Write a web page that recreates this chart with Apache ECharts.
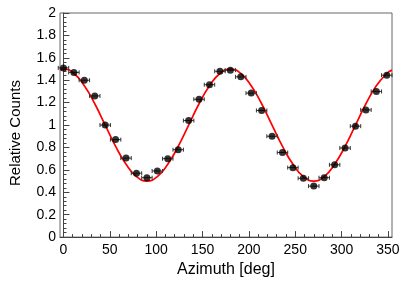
<!DOCTYPE html>
<html>
<head>
<meta charset="utf-8">
<script src="https://cdn.jsdelivr.net/npm/echarts@6/dist/echarts.min.js"></script>
<style>
  html, body { margin: 0; padding: 0; background: #fff; }
  #chart { width: 415px; height: 283px; }
</style>
</head>
<body>
<div id="chart"></div>
<script>
// ---- data ----
const binCenters = [0, 11.25, 22.5, 33.75, 45, 56.25, 67.5, 78.75, 90, 101.25, 112.5, 123.75,
  135, 146.25, 157.5, 168.75, 180, 191.25, 202.5, 213.75, 225, 236.25, 247.5, 258.75,
  270, 281.25, 292.5, 303.75, 315, 326.25, 337.5, 348.75];
const relCounts = [1.51, 1.47, 1.40, 1.26, 1.00, 0.87, 0.705, 0.57, 0.53, 0.59, 0.70, 0.78,
  1.04, 1.23, 1.36, 1.48, 1.49, 1.43, 1.285, 1.13, 0.90, 0.755, 0.62, 0.525,
  0.455, 0.53, 0.645, 0.795, 0.99, 1.135, 1.30, 1.445];
const binHalfWidth = 5.625;

const fitX = [-3.75, 0, 11.25, 22.5, 33.75, 45, 56.25, 67.5, 78.75, 90, 101.25, 112.5, 123.75,
  135, 146.25, 157.5, 168.75, 180, 191.25, 202.5, 213.75, 225, 236.25, 247.5, 258.75,
  270, 281.25, 292.5, 303.75, 315, 326.25, 337.5, 348.75, 354.375];
const fitY = [1.495, 1.50, 1.46, 1.35, 1.19, 1.00, 0.81, 0.65, 0.54, 0.50, 0.54, 0.65, 0.81,
  1.00, 1.19, 1.35, 1.46, 1.50, 1.46, 1.35, 1.19, 1.00, 0.81, 0.65, 0.54,
  0.50, 0.54, 0.65, 0.81, 1.00, 1.19, 1.35, 1.46, 1.49];

const xMajorTicks = [0, 50, 100, 150, 200, 250, 300, 350];
const xMinorTicks = [10, 20, 30, 40, 60, 70, 80, 90, 110, 120, 130, 140, 160, 170, 180, 190,
  210, 220, 230, 240, 260, 270, 280, 290, 310, 320, 330, 340];
const xTitle = 'Azimuth [deg]';
const yTitle = 'Relative Counts';

// ---- chart ----
const FONT = '"Liberation Sans", Arial, Helvetica, sans-serif';
const AXC = '#444';
const X_MIN = -3.75, X_MAX = 354.375;
const chart = echarts.init(document.getElementById('chart'), null, { renderer: 'canvas' });

const points = binCenters.map((x, i) => [x, relCounts[i]]);
const fit = fitX.map((x, i) => [x, fitY[i]]);

chart.setOption({
  animation: false,
  backgroundColor: '#fff',
  grid: { left: 58, right: 23, top: 13, bottom: 45, show: true, borderColor: '#666', borderWidth: 1, backgroundColor: 'transparent' },
  xAxis: [
    {
      type: 'value', min: X_MIN, max: X_MAX,
      name: xTitle, nameLocation: 'middle', nameGap: 23,
      nameTextStyle: { fontFamily: FONT, fontSize: 16, color: '#000' },
      axisLine: { show: true, onZero: false, lineStyle: { color: AXC, width: 1 } },
      axisTick: { show: true, inside: true, length: 6, customValues: xMajorTicks, lineStyle: { color: AXC } },
      axisLabel: { show: true, customValues: xMajorTicks, margin: 6, fontFamily: FONT, fontSize: 14, color: '#000' },
      splitLine: { show: false }
    },
    {
      type: 'value', min: X_MIN, max: X_MAX, position: 'bottom',
      axisLine: { show: false, onZero: false },
      axisTick: { show: true, inside: true, length: 3, customValues: xMinorTicks, lineStyle: { color: AXC } },
      axisLabel: { show: false },
      splitLine: { show: false }
    }
  ],
  yAxis: {
    type: 'value', min: 0, max: 2, interval: 0.2,
    name: yTitle, nameLocation: 'middle', nameGap: 37,
    nameTextStyle: { fontFamily: FONT, fontSize: 15, color: '#000', padding: [0, 16, 0, 0] },
    axisLine: { show: true, lineStyle: { color: AXC, width: 1 } },
    axisTick: { show: true, inside: true, length: 6, lineStyle: { color: AXC } },
    minorTick: { show: true, splitNumber: 5, length: 3, lineStyle: { color: AXC } },
    axisLabel: { margin: 4, fontFamily: FONT, fontSize: 14, color: '#000' },
    splitLine: { show: false }
  },
  series: [
    {
      type: 'line', data: fit, smooth: true, showSymbol: false, xAxisIndex: 0,
      lineStyle: { color: '#ff0000', width: 1.7 }, z: 2
    },
    {
      type: 'custom', xAxisIndex: 0, data: points, z: 3,
      renderItem: function (params, api) {
        const x = api.value(0), y = api.value(1);
        const a = api.coord([x - binHalfWidth, y]);
        const b = api.coord([x + binHalfWidth, y]);
        const s = { stroke: '#333', lineWidth: 1 };
        return {
          type: 'group',
          children: [
            { type: 'line', shape: { x1: a[0], y1: a[1], x2: b[0], y2: b[1] }, style: s },
            { type: 'line', shape: { x1: a[0], y1: a[1] - 2, x2: a[0], y2: a[1] + 2 }, style: s },
            { type: 'line', shape: { x1: b[0], y1: b[1] - 2, x2: b[0], y2: b[1] + 2 }, style: s }
          ]
        };
      }
    },
    {
      type: 'scatter', data: points, xAxisIndex: 0, symbol: 'circle', symbolSize: 7,
      itemStyle: { color: '#000' }, z: 4
    }
  ]
});
</script>
</body>
</html>
